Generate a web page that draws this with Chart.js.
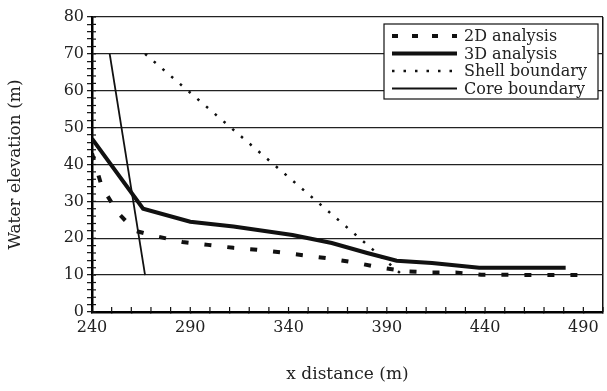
<!DOCTYPE html>
<html lang="en">
<head>
<meta charset="UTF-8">
<title>Water elevation</title>
<script src="https://cdn.jsdelivr.net/npm/chart.js"></script>
<style>
  html, body { margin: 0; padding: 0; background: #fff; }
  #wrap { width: 607px; height: 391px; }
</style>
</head>
<body>
<div id="wrap"><canvas id="chart"></canvas></div>
<script>
// values
const names = ['2D analysis', '3D analysis', 'Shell boundary', 'Core boundary'];
const x2d = [240, 245, 253, 262, 274, 286, 299, 312, 324, 337, 349, 362, 375, 387, 400, 413, 425, 438, 487];
const y2d = [43, 34, 27, 22, 20.4, 19, 18.2, 17.4, 16.9, 16.1, 15.3, 14.4, 13.3, 12, 11, 10.7, 10.7, 10.1, 10];
const x3d = [240, 266, 290, 312, 342, 362, 380, 395, 413, 437, 481];
const y3d = [47, 28, 24.5, 23.2, 20.9, 18.7, 16, 13.9, 13.3, 12, 12];
const xShell = [267, 398];
const yShell = [70, 10];
const xCore = [249, 267];
const yCore = [70, 10];

const pts = (xs, ys) => xs.map((x, i) => ({ x, y: ys[i] }));
const serif = 'DejaVu Serif';
const ink = '#111';

// short ticks on the inside of both axes
const innerTicks = {
  id: 'innerTicks',
  afterDraw(chart) {
    const { ctx, chartArea: a, scales } = chart;
    ctx.save();
    ctx.strokeStyle = ink;
    ctx.lineWidth = 1.2;
    scales.x.ticks.forEach(t => {
      const px = scales.x.getPixelForValue(t.value);
      ctx.beginPath(); ctx.moveTo(px, a.bottom); ctx.lineTo(px, a.bottom - 5); ctx.stroke();
    });
    scales.y.ticks.forEach(t => {
      const py = scales.y.getPixelForValue(t.value);
      ctx.beginPath(); ctx.moveTo(a.left, py); ctx.lineTo(a.left + 4, py); ctx.stroke();
    });
    ctx.restore();
  }
};

// boxed legend in the upper right of the plot
const boxLegend = {
  id: 'boxLegend',
  afterDraw(chart) {
    const { ctx, chartArea: a } = chart;
    const w = 214, h = 75;
    const bx = a.right - 5 - w, by = a.top + 7;
    ctx.save();
    ctx.fillStyle = '#fff';
    ctx.fillRect(bx, by, w, h);
    ctx.strokeStyle = ink;
    ctx.lineWidth = 1.2;
    ctx.strokeRect(bx, by, w, h);
    ctx.font = '16px "' + serif + '"';
    ctx.textBaseline = 'middle';
    ctx.fillStyle = '#222';
    chart.data.datasets.forEach((ds, i) => {
      const ly = by + 12 + i * 17.5;
      ctx.beginPath();
      ctx.setLineDash(ds.legendDash || ds.borderDash || []);
      ctx.lineWidth = ds.borderWidth;
      ctx.strokeStyle = ds.borderColor;
      ctx.moveTo(bx + 8, ly); ctx.lineTo(bx + 73, ly);
      ctx.stroke();
      ctx.setLineDash([]);
      ctx.fillText(ds.label, bx + 80, ly + 1);
    });
    ctx.restore();
  }
};

new Chart(document.getElementById('chart'), {
  type: 'line',
  data: {
    datasets: [
      { label: names[0], data: pts(x2d, y2d), borderColor: ink, borderWidth: 4, borderDash: [7, 16], legendDash: [6, 14] },
      { label: names[1], data: pts(x3d, y3d), borderColor: ink, borderWidth: 4 },
      { label: names[2], data: pts(xShell, yShell), borderColor: ink, borderWidth: 2.5, borderDash: [2.5, 9] },
      { label: names[3], data: pts(xCore, yCore), borderColor: ink, borderWidth: 1.8 }
    ]
  },
  options: {
    responsive: true,
    maintainAspectRatio: false,
    animation: false,
    devicePixelRatio: 1,
    elements: { point: { radius: 0 }, line: { tension: 0, fill: false } },
    layout: { padding: { top: 17, right: 1, left: 0, bottom: 0 } },
    plugins: { legend: { display: false }, tooltip: { enabled: false } },
    scales: {
      x: {
        type: 'linear',
        min: 240,
        max: 500,
        afterFit: s => { s.height = 79; },
        ticks: {
          stepSize: 10,
          autoSkip: false,
          maxRotation: 0,
          padding: 4,
          color: '#222',
          font: { family: serif, size: 16 },
          callback: v => ((v - 240) % 50 === 0 && v < 500 ? v : '')
        },
        grid: {
          drawOnChartArea: true,
          color: c => (c.tick && c.tick.value === 500 ? ink : 'rgba(0,0,0,0)'),
          lineWidth: 1.5,
          tickLength: 2,
          tickColor: ink,
          tickWidth: 1.2
        },
        border: { color: '#000', width: 2.5 },
        title: {
          display: true,
          text: 'x distance (m)',
          color: '#222',
          font: { family: serif, size: 17 },
          padding: { top: 0, bottom: 6 }
        }
      },
      y: {
        min: 0,
        max: 80,
        afterFit: s => { s.width = 92; },
        ticks: {
          stepSize: 2,
          autoSkip: false,
          padding: 3,
          color: '#222',
          font: { family: serif, size: 16 },
          callback: v => (v % 10 === 0 ? v : '')
        },
        grid: {
          color: c => (c.tick && c.tick.value % 10 === 0 && c.tick.value > 0 ? '#222' : 'rgba(0,0,0,0)'),
          lineWidth: 1.3,
          tickLength: 5,
          tickColor: ink,
          tickWidth: 1.2
        },
        border: { color: '#000', width: 2.5 },
        title: {
          display: true,
          text: 'Water elevation (m)',
          color: '#222',
          font: { family: serif, size: 17 },
          padding: { top: 5, bottom: 0 }
        }
      }
    }
  },
  plugins: [innerTicks, boxLegend]
});
</script>
</body>
</html>
